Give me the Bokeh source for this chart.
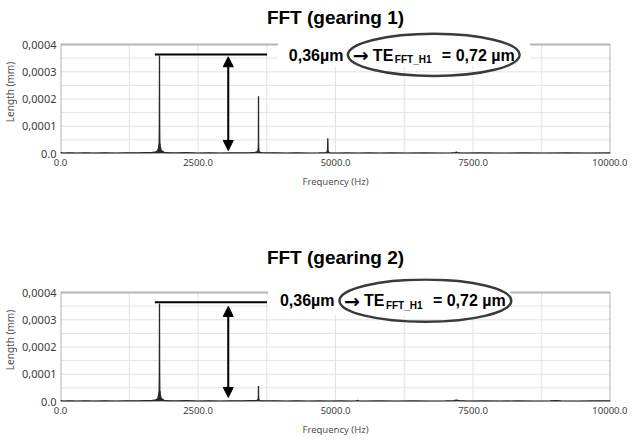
import numpy as np
from bokeh.plotting import figure
from bokeh.layouts import column
from bokeh.models import (Range1d, FixedTicker, CustomJSTickFormatter, Label,
                          Arrow, NormalHead)
from bokeh.embed import file_html
from bokeh.resources import INLINE

# ---------------- data ----------------
titles = ["FFT (gearing 1)", "FFT (gearing 2)"]
x_ticks = [0, 2500, 5000, 7500, 10000]
y_ticks = [0.0, 0.0001, 0.0002, 0.0003, 0.0004]
x_label = "Frequency (Hz)"
y_label = "Length (mm)"

# gearing 1 spectrum (Hz, mm)
freq1 = [0, 60, 150, 300, 450, 600, 800, 1000, 1200, 1400, 1550, 1650, 1700, 1725,
         1740, 1752, 1762, 1770, 1778, 1784, 1789, 1793, 1796, 1798, 1800, 1802,
         1804, 1807, 1811, 1816, 1822, 1830, 1840, 1852, 1866, 1885, 1920, 1980,
         2100, 2300, 2500, 2700, 2900, 3100, 3300, 3450, 3540, 3570, 3585, 3594,
         3598, 3600, 3602, 3606, 3615, 3630, 3660, 3750, 3900, 4100, 4300, 4500,
         4700, 4820, 4845, 4855, 4860, 4865, 4875, 4900, 5000, 5200, 5400, 5600,
         5800, 6000, 6300, 6600, 6900, 7100, 7180, 7200, 7220, 7300, 7600, 8000,
         8400, 8800, 9200, 9600, 10000]
amp1 = [3e-6, 1.5e-6, 2.5e-6, 1.5e-6, 2.5e-6, 1.5e-6, 2.5e-6, 1.5e-6, 2.5e-6, 2e-6,
        3e-6, 3.5e-6, 5e-6, 4e-6, 8e-6, 6e-6, 12e-6, 9e-6, 20e-6, 15e-6, 34e-6,
        28e-6, 80e-6, 150e-6, 360e-6, 140e-6, 70e-6, 30e-6, 36e-6, 18e-6, 22e-6,
        10e-6, 12e-6, 6e-6, 7e-6, 4e-6, 3.5e-6, 2.5e-6, 2e-6, 3e-6, 1.5e-6, 2.5e-6,
        1.5e-6, 2.5e-6, 2e-6, 3e-6, 4e-6, 6e-6, 9e-6, 14e-6, 40e-6, 210e-6, 35e-6,
        12e-6, 7e-6, 4e-6, 3e-6, 2e-6, 2.5e-6, 1.5e-6, 2.5e-6, 1.5e-6, 2e-6, 3e-6,
        5e-6, 12e-6, 56e-6, 10e-6, 4e-6, 2.5e-6, 1.5e-6, 2e-6, 1.5e-6, 2e-6, 1.5e-6,
        2e-6, 1.5e-6, 2e-6, 1.5e-6, 2e-6, 3e-6, 5e-6, 3e-6, 1.5e-6, 2e-6, 1.5e-6,
        2e-6, 1.5e-6, 2e-6, 1.5e-6, 2e-6]

# gearing 2 spectrum (Hz, mm)
freq2 = [0, 60, 150, 300, 450, 600, 800, 1000, 1200, 1400, 1550, 1650, 1700, 1725,
         1740, 1752, 1762, 1770, 1778, 1784, 1789, 1793, 1796, 1798, 1800, 1802,
         1804, 1807, 1811, 1816, 1822, 1830, 1840, 1852, 1866, 1885, 1920, 1980,
         2100, 2300, 2500, 2700, 2900, 3100, 3300, 3450, 3540, 3570, 3585, 3594,
         3598, 3600, 3602, 3606, 3615, 3630, 3660, 3750, 3900, 4100, 4300, 4500,
         4700, 4900, 5100, 5300, 5380, 5400, 5420, 5500, 5800, 6100, 6400, 6700,
         7000, 7150, 7200, 7250, 7400, 7700, 8000, 8300, 8600, 8900, 9000, 9100,
         9400, 9700, 10000]
amp2 = [3e-6, 1.5e-6, 2.5e-6, 1.5e-6, 2.5e-6, 1.5e-6, 2.5e-6, 1.5e-6, 2.5e-6, 2e-6,
        3e-6, 3.5e-6, 5e-6, 4e-6, 8e-6, 6e-6, 12e-6, 9e-6, 22e-6, 16e-6, 36e-6,
        30e-6, 85e-6, 160e-6, 360e-6, 150e-6, 75e-6, 32e-6, 38e-6, 18e-6, 22e-6,
        10e-6, 12e-6, 6e-6, 7e-6, 4e-6, 3.5e-6, 2.5e-6, 2e-6, 3e-6, 1.5e-6, 2.5e-6,
        1.5e-6, 2.5e-6, 2e-6, 3e-6, 3e-6, 4e-6, 6e-6, 9e-6, 20e-6, 57e-6, 18e-6,
        8e-6, 5e-6, 3e-6, 2.5e-6, 2e-6, 2.5e-6, 1.5e-6, 2.5e-6, 1.5e-6, 2e-6,
        1.5e-6, 2e-6, 1.5e-6, 2.5e-6, 4e-6, 2.5e-6, 1.5e-6, 2e-6, 1.5e-6, 2e-6,
        1.5e-6, 2e-6, 3e-6, 5e-6, 3e-6, 1.5e-6, 2e-6, 1.5e-6, 2e-6, 1.5e-6, 2e-6,
        3.5e-6, 2e-6, 1.5e-6, 2e-6, 2e-6]

# annotation values
peak_text = "0,36µm"
te_text = "TE"
te_sub = "FFT_H1"
te_value = "= 0,72 µm"
peak_level = [0.000363, 0.000364]

series = [(freq1, amp1), (freq2, amp2)]

# ---------------- layout / style ----------------
FRAME_W = 550
FRAME_H = 123
PX_PER_04 = 109  # pixels for 0.0004 mm
YMAX = 0.0004 * FRAME_H / PX_PER_04
tops = [30, 88]
bottoms = [34, 34]
title_standoff = [5, 22]
text_anchor_x = [4152, 3989]
text_y = [0.000360, 0.000369]
ell_x = [6787, 6634]
ell_y = [0.000362, 0.000370]
box_x = [(3953, 8538), (3773, 8177)]
arrow_y = [(0.000011, 0.000355), (0.000015, 0.000349)]

GRID = "#e3e3e3"
BORDER = "#b4b4b4"
FONT_T = "Liberation Sans"
FONT_A = "Noto Sans"

plots = []
for i in range(2):
    f, a = series[i]
    p = figure(frame_width=FRAME_W, frame_height=FRAME_H,
               output_backend="svg", toolbar_location=None,
               x_range=Range1d(0, 10000), y_range=Range1d(0, YMAX),
               min_border_left=52, min_border_right=17,
               min_border_top=tops[i], min_border_bottom=bottoms[i],
               background_fill_color="white", border_fill_color="white")
    p.outline_line_color = None
    p.grid.visible = False

    p.title.text = titles[i]
    p.title.align = "center"
    p.title.text_font = FONT_T
    p.title.text_font_size = "19px"
    p.title.text_font_style = "bold"
    p.title.text_color = "black"
    p.title.standoff = title_standoff[i]

    # axes
    xa = p.xaxis[0]
    xa.ticker = FixedTicker(ticks=x_ticks)
    xa.formatter = CustomJSTickFormatter(code="return tick.toFixed(1);")
    xa.axis_label = x_label
    ya = p.yaxis[0]
    ya.ticker = FixedTicker(ticks=y_ticks)
    ya.formatter = CustomJSTickFormatter(
        code="if (tick == 0) { return '0.0'; } return tick.toFixed(4).replace('.', ',');")
    ya.axis_label = y_label
    for ax in (xa, ya):
        ax.axis_line_color = None
        ax.major_tick_line_color = None
        ax.minor_tick_line_color = None
        ax.major_tick_out = 0
        ax.major_tick_in = 0
        ax.major_label_text_font = FONT_A
        ax.major_label_text_color = "#3c3c3c"
        ax.axis_label_text_font = FONT_A
        ax.axis_label_text_font_style = "normal"
        ax.axis_label_text_color = "#505050"
    xa.major_label_text_font_size = "9.5px"
    xa.major_label_standoff = 5
    xa.axis_label_text_font_size = "9.5px"
    xa.axis_label_standoff = 6
    ya.major_label_text_font_size = "11px"
    ya.major_label_standoff = 4
    ya.axis_label_text_font_size = "10px"
    ya.axis_label_standoff = 2

    # grid (manual, limited to 0..0.0004)
    gx = np.arange(1250, 10000, 1250)
    p.segment(x0=gx, y0=0, x1=gx, y1=0.0004, line_color=GRID, line_width=1)
    gy = np.arange(0.00005, 0.0004, 0.00005)
    p.segment(x0=0, y0=gy, x1=10000, y1=gy, line_color=GRID, line_width=1)

    # border
    p.segment(x0=[0, 0, 10000, 0], y0=[0, 0.0004, 0, 0],
              x1=[0, 10000, 10000, 10000], y1=[0.0004, 0.0004, 0.0004, 0],
              line_color=BORDER, line_width=2)

    # white box behind annotation text
    p.quad(left=box_x[i][0], right=box_x[i][1], bottom=0.00032, top=YMAX,
           fill_color="white", line_color=None)

    # spectrum
    p.varea(x=f, y1=0, y2=a, fill_color="#2a2a2a")
    p.line(f, a, line_color="#2a2a2a", line_width=1.3)

    # peak level line and measuring arrow
    p.segment(x0=1715, y0=peak_level[i], x1=3755, y1=peak_level[i],
              line_color="black", line_width=2)
    p.add_layout(Arrow(x_start=3050, y_start=arrow_y[i][0], x_end=3050, y_end=arrow_y[i][1],
                       line_color="black", line_width=2,
                       start=NormalHead(size=10, fill_color="black", line_color="black"),
                       end=NormalHead(size=10, fill_color="black", line_color="black")))

    # ellipse
    p.ellipse(x=ell_x[i], y=ell_y[i], width=3123, height=0.000155,
              fill_color=None, line_color="#3a3a3a", line_width=2.5)

    # texts
    def lab(txt, dx, size, dy=0.0, font=FONT_T):
        p.add_layout(Label(x=text_anchor_x[i], y=text_y[i] - dy, x_offset=dx, text=txt,
                           text_font=font, text_font_size=size, text_font_style="bold",
                           text_color="black", text_baseline="middle", text_align="left"))
    lab(peak_text, 0, "16px")
    lab("→", 64, "19px", font="DejaVu Sans")
    lab(te_text, 84, "16px")
    lab(te_sub, 106, "10px", dy=0.0000150)
    lab(te_value, 153, "16px")

    plots.append(p)

layout = column(*plots, spacing=0)
open("out.html", "w").write(file_html(layout, INLINE))
